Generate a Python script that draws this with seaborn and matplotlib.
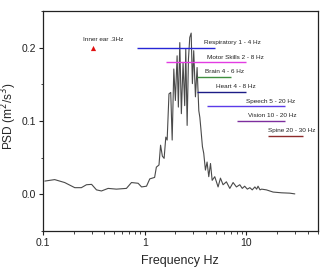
import numpy as np
import pandas as pd
import matplotlib
matplotlib.use("Agg")
import matplotlib.pyplot as plt
import seaborn as sns
from matplotlib.ticker import FixedLocator, FixedFormatter, MultipleLocator, LogLocator, NullFormatter

# PSD curve
freq = [0.104, 0.130, 0.163, 0.205, 0.238, 0.267, 0.300, 0.335, 0.375, 0.436, 0.526, 0.66,
        0.74, 0.86, 0.93, 1.04, 1.12, 1.25, 1.30, 1.38, 1.43, 1.49, 1.55, 1.61, 1.66, 1.73,
        1.80, 1.86, 1.93, 2.00, 2.08, 2.14, 2.21, 2.29, 2.38, 2.47, 2.53, 2.61, 2.69, 2.77,
        2.86, 2.94, 3.03, 3.15, 3.27, 3.40, 3.48, 3.56, 3.69, 3.80, 3.95, 4.10, 4.26, 4.43,
        4.60, 4.88, 5.26, 5.55, 5.89, 6.35, 6.86, 7.39, 7.97, 8.6, 9.1, 9.6, 10.2, 10.8,
        11.4, 12.1, 12.6, 13.0, 13.6, 14.1, 15.7, 18.3, 22.1, 26.7, 29.9]
psd = [0.018, 0.020, 0.016, 0.009, 0.009, 0.013, 0.0135, 0.006, 0.0045, 0.008, 0.007, 0.008,
       0.016, 0.015, 0.010, 0.011, 0.021, 0.023, 0.037, 0.040, 0.067, 0.052, 0.049, 0.078, 0.074, 0.137,
       0.139, 0.074, 0.171, 0.128, 0.189, 0.119, 0.207, 0.110, 0.180, 0.121, 0.198, 0.094, 0.185, 0.214,
       0.220, 0.151, 0.196, 0.133, 0.173, 0.114, 0.105, 0.090, 0.065, 0.056, 0.033, 0.044, 0.024, 0.042,
       0.019, 0.024, 0.010, 0.022, 0.013, 0.017, 0.008, 0.016, 0.010, 0.013, 0.008, 0.011, 0.007, 0.009,
       0.006, 0.010, 0.007, 0.011, 0.006, 0.007, 0.006, 0.003, 0.002, 0.0015, 0.0005]

# Frequency bands
band_names = ["Respiratory 1 - 4 Hz", "Motor Skills 2 - 8 Hz", "Brain 4 - 6 Hz", "Heart 4 - 8 Hz",
              "Speech 5 - 20 Hz", "Vision 10 - 20 Hz", "Spine 20 - 30 Hz"]
band_start = [0.83, 1.63, 3.26, 3.27, 4.07, 8.1, 16.3]
band_end = [4.86, 9.8, 7.0, 9.8, 24.0, 24.0, 36.0]
band_level = [0.20, 0.18, 0.16, 0.14, 0.12, 0.10, 0.08]

inner_ear_name = "Inner ear .3Hz"
inner_ear_freq = 0.31
inner_ear_level = 0.20

# styling (not data)
band_colors = ["#2626d6", "#e23ce2", "#3f8f3f", "#1c1c86", "#5b3be8", "#7d2e9e", "#8e2b2b"]
label_x = [3.79, 4.12, 3.94, 4.97, 9.93, 10.4, 16.3]
label_dy = 0.007

sns.set_theme(style="ticks")
plt.rcParams['font.family'] = ['Liberation Sans', 'DejaVu Sans']

fig = plt.figure(figsize=(3.24, 2.71), dpi=100)
ax = fig.add_axes([0.133, 0.148, 0.847, 0.811])

df = pd.DataFrame({"Frequency": freq, "PSD": psd})
sns.lineplot(data=df, x="Frequency", y="PSD", ax=ax, color="#4a4a4a", linewidth=0.8)

for name, s, e, lv, c, lx in zip(band_names, band_start, band_end, band_level, band_colors, label_x):
    ax.hlines(lv, s, e, colors=c, linewidth=1.0)
    ax.text(lx, lv + label_dy, name, fontsize=4.6, color="#222222", va="center", ha="left")

ax.scatter([inner_ear_freq], [inner_ear_level], marker="^", color="#e01010", s=14, zorder=5, linewidths=0)
ax.text(0.245, inner_ear_level + 0.011, inner_ear_name, fontsize=4.6, color="#222222", va="center", ha="left")

ax.set_xscale("log")
ax.set_xlim(0.1, 50)
ax.set_ylim(-0.05, 0.25)
ax.xaxis.set_major_locator(FixedLocator([0.1, 1, 10]))
ax.xaxis.set_major_formatter(FixedFormatter(["0.1", "1", "10"]))
ax.xaxis.set_minor_locator(LogLocator(base=10, subs=np.arange(2, 10)))
ax.xaxis.set_minor_formatter(NullFormatter())
ax.yaxis.set_major_locator(FixedLocator([0.0, 0.1, 0.2]))
ax.yaxis.set_major_formatter(FixedFormatter(["0.0", "0.1", "0.2"]))
ax.yaxis.set_minor_locator(MultipleLocator(0.05))

for sp in ax.spines.values():
    sp.set_visible(True)
    sp.set_color("#222222")
    sp.set_linewidth(0.9)
ax.tick_params(axis="both", which="major", direction="out", length=3, width=0.8, labelsize=7.5, colors="#222222", pad=2)
ax.tick_params(axis="both", which="minor", direction="out", length=1.8, width=0.6)

ax.set_xlabel("Frequency Hz", fontsize=9, labelpad=5)
ax.set_ylabel("PSD (m$^2$/s$^3$)", fontsize=8.6)
ax.yaxis.set_label_coords(-0.088, 0.52)

fig.savefig("out.png", dpi=100)
